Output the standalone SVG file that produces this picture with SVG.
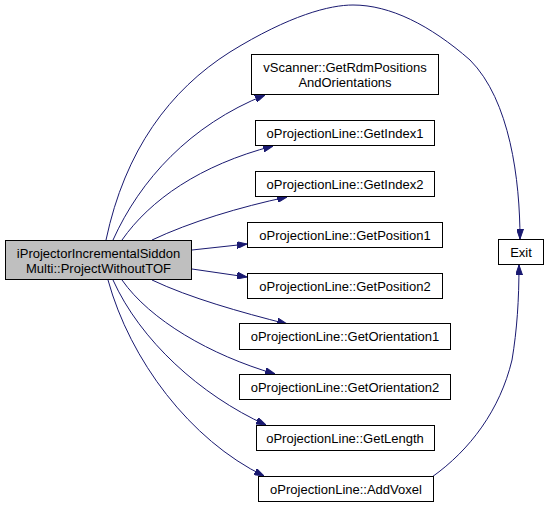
<svg xmlns="http://www.w3.org/2000/svg" width="549" height="507" viewBox="0 0 549 507">
<style>
.n rect{fill:#ffffff;stroke:#000000;stroke-width:1}
.n text{font-family:"Liberation Sans",Arial,sans-serif;font-size:13px;fill:#000000;text-anchor:middle}
#main rect{fill:#bfbfbf}
.e path{fill:none;stroke:#191970;stroke-width:1;marker-end:url(#ah)}
</style>
<defs>
<marker id="ah" viewBox="0 0 10 7" refX="10" refY="3.5" markerWidth="10" markerHeight="7" markerUnits="userSpaceOnUse" orient="auto">
<path d="M0,0 L10,3.5 L0,7 z" fill="#191970" stroke="#191970" stroke-width="1"/>
</marker>
</defs>
<rect width="549" height="507" fill="#ffffff"/>
<g class="e" id="edges">
<path d="M106,240 C125,150 170,90 230,52 C290,15 330,5 353,5 C390,5 430,25 470,60 C510,100 520,180 520,239"/>
<path d="M113,240 C140,180 190,125 265,95"/>
<path d="M122,240 C150,200 200,165 273,146"/>
<path d="M152,240 C190,222 240,207 287,197"/>
<path d="M192,250 L247,244"/>
<path d="M192,269 L247,277"/>
<path d="M152,280 C190,298 240,312 287,324"/>
<path d="M122,280 C150,320 210,355 275,374"/>
<path d="M113,280 C140,340 200,395 266,425"/>
<path d="M108,280 C130,360 190,440 264,476"/>
<path d="M432,477 C470,450 500,410 512,360 C517,330 519,300 519,265"/>
</g>
<g class="n" id="main"><rect x="5.5" y="240.5" width="186" height="39"/><text x="98.5" y="258">iProjectorIncrementalSiddon</text><text x="98.5" y="273">Multi::ProjectWithoutTOF</text></g>
<g class="n" id="n_vscanner"><rect x="251.5" y="54.5" width="187" height="40"/><text x="345" y="72">vScanner::GetRdmPositions</text><text x="345" y="87">AndOrientations</text></g>
<g class="n" id="n_index1"><rect x="255.5" y="120.5" width="179" height="25"/><text x="345" y="137.5">oProjectionLine::GetIndex1</text></g>
<g class="n" id="n_index2"><rect x="255.5" y="171.5" width="179" height="25"/><text x="345" y="188.5">oProjectionLine::GetIndex2</text></g>
<g class="n" id="n_pos1"><rect x="247.5" y="222.5" width="195" height="25"/><text x="345" y="239.5">oProjectionLine::GetPosition1</text></g>
<g class="n" id="n_pos2"><rect x="247.5" y="273.5" width="195" height="25"/><text x="345" y="290.5">oProjectionLine::GetPosition2</text></g>
<g class="n" id="n_or1"><rect x="239.5" y="323.5" width="211" height="26"/><text x="345" y="341">oProjectionLine::GetOrientation1</text></g>
<g class="n" id="n_or2"><rect x="239.5" y="374.5" width="211" height="25"/><text x="345" y="391.5">oProjectionLine::GetOrientation2</text></g>
<g class="n" id="n_len"><rect x="256.5" y="425.5" width="178" height="25"/><text x="345" y="442.5">oProjectionLine::GetLength</text></g>
<g class="n" id="n_addvoxel"><rect x="258.5" y="476.5" width="175" height="25"/><text x="346" y="493.5">oProjectionLine::AddVoxel</text></g>
<g class="n" id="n_exit"><rect x="498.5" y="239.5" width="45" height="25"/><text x="521" y="256.5">Exit</text></g>
</svg>
